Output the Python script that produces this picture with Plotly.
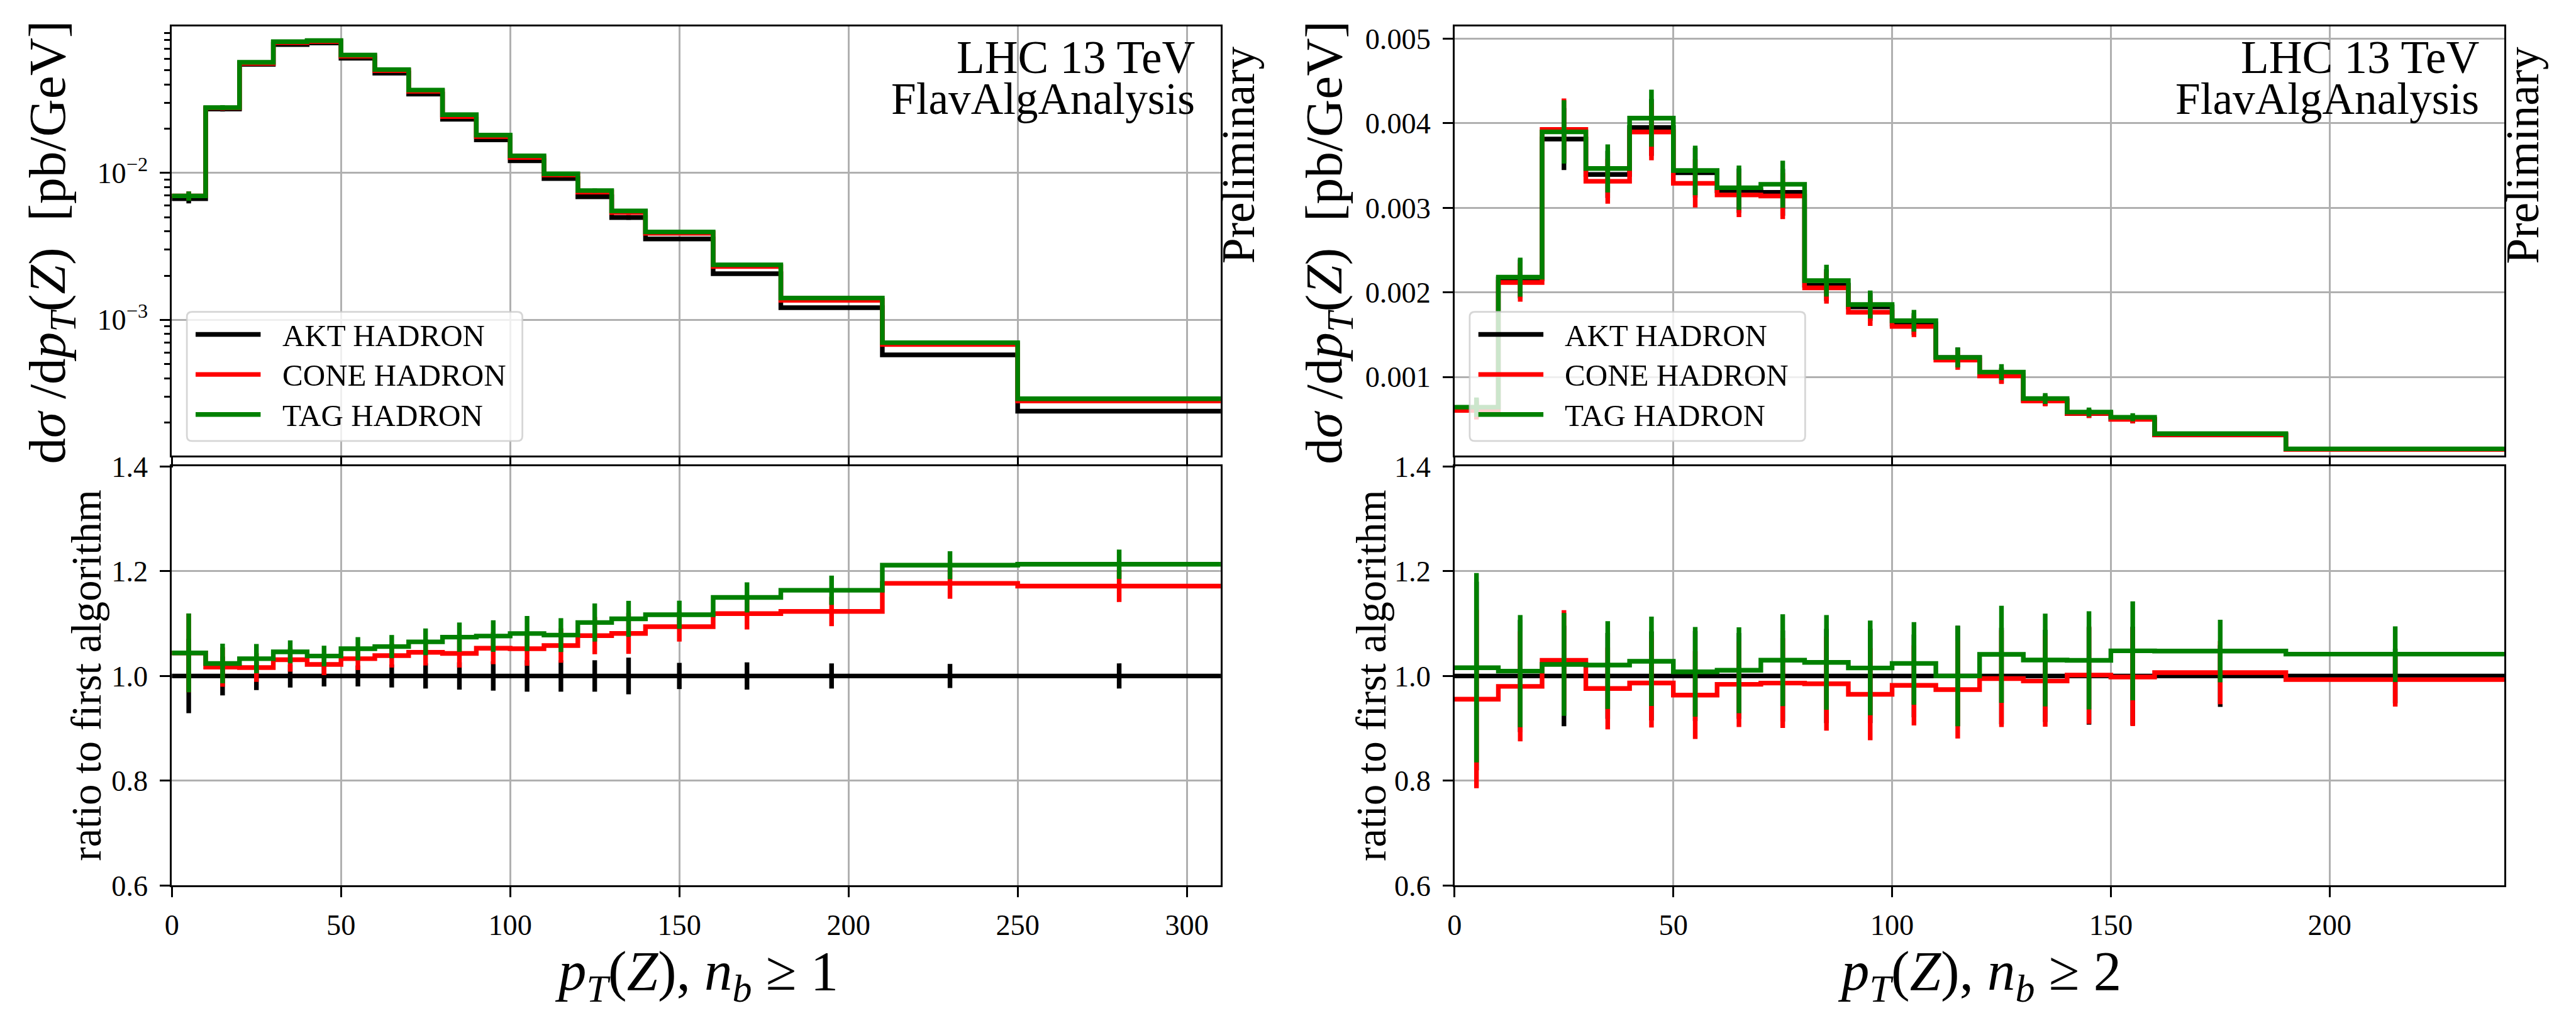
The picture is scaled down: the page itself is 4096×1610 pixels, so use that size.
import plotly.graph_objects as go

# ---------------- data ----------------
# pT(Z), n_b >= 1
edges_nb1 = [0, 10, 20, 30, 40, 50, 60, 70, 80, 90, 100, 110, 120, 130, 140, 160, 180, 210, 250, 310]
akt_nb1 = [0.00668, 0.0272, 0.0548, 0.0748, 0.0767, 0.0603, 0.0478, 0.0344, 0.0232, 0.0168,
           0.0121, 0.00915, 0.00688, 0.00497, 0.00355, 0.00206, 0.00121, 0.000577, 0.000239]
cone_nb1 = [0.006974, 0.02766, 0.05568, 0.07712, 0.07839, 0.06229, 0.04966, 0.03595, 0.02420, 0.01769,
            0.01273, 0.009681, 0.00741, 0.005373, 0.003884, 0.002305, 0.001359, 0.000679, 0.000280]
tag_nb1 = [0.006974, 0.02785, 0.05661, 0.07824, 0.07962, 0.06344, 0.05048, 0.03664, 0.02492, 0.01808,
           0.01308, 0.009864, 0.007582, 0.005512, 0.003965, 0.002369, 0.001408, 0.000699, 0.000290]
akt_relerr_nb1 = [0.071, 0.037, 0.027, 0.022, 0.020, 0.020, 0.022, 0.024, 0.026, 0.028,
                  0.030, 0.030, 0.030, 0.035, 0.025, 0.026, 0.024, 0.023, 0.024]
cone_relerr_nb1 = [0.072, 0.037, 0.027, 0.022, 0.020, 0.021, 0.022, 0.024, 0.026, 0.029,
                   0.031, 0.031, 0.033, 0.036, 0.026, 0.027, 0.025, 0.025, 0.026]
tag_relerr_nb1 = [0.072, 0.037, 0.027, 0.021, 0.019, 0.021, 0.021, 0.024, 0.026, 0.028,
                  0.031, 0.030, 0.033, 0.031, 0.024, 0.025, 0.024, 0.022, 0.023]

# pT(Z), n_b >= 2
edges_nb2 = [0, 10, 20, 30, 40, 50, 60, 70, 80, 90, 100, 110, 120, 130, 140, 150, 160, 190, 240]
akt_nb2 = [0.000633, 0.00216, 0.003814, 0.003395, 0.00395, 0.003415, 0.003203, 0.003183, 0.002085,
           0.001829, 0.001626, 0.001231, 0.001016, 0.000723, 0.000568, 0.000500, 0.000315, 0.000144]
cone_nb2 = [0.000605, 0.002117, 0.003928, 0.003314, 0.003897, 0.00329, 0.003152, 0.00314, 0.002054,
            0.001765, 0.001597, 0.001199, 0.001011, 0.000716, 0.000569, 0.000499, 0.000317, 0.000143]
tag_nb2 = [0.000643, 0.00218, 0.003898, 0.003466, 0.004061, 0.003442, 0.003238, 0.003279, 0.002139,
           0.001857, 0.001665, 0.001231, 0.001058, 0.000745, 0.000585, 0.000524, 0.000330, 0.000150]
akt_relerr_nb2 = [0.180, 0.107, 0.096, 0.082, 0.085, 0.086, 0.082, 0.087, 0.090,
                  0.090, 0.079, 0.096, 0.092, 0.088, 0.093, 0.094, 0.059, 0.052]
cone_relerr_nb2 = [0.178, 0.107, 0.093, 0.080, 0.086, 0.087, 0.083, 0.087, 0.091,
                   0.091, 0.078, 0.096, 0.093, 0.088, 0.093, 0.094, 0.060, 0.052]
tag_relerr_nb2 = [0.178, 0.106, 0.096, 0.082, 0.083, 0.085, 0.081, 0.085, 0.088,
                  0.089, 0.077, 0.096, 0.089, 0.086, 0.091, 0.090, 0.057, 0.051]

series_names = ["AKT HADRON", "CONE HADRON", "TAG HADRON"]
series_colors = ["#000000", "#ff0000", "#008000"]

xticks_nb1 = [0, 50, 100, 150, 200, 250, 300]
xticks_nb2 = [0, 50, 100, 150, 200]
ratio_ticks = [0.6, 0.8, 1.0, 1.2, 1.4]
ratio_ticktext = ["0.6", "0.8", "1.0", "1.2", "1.4"]
lin_ticks_nb2 = [0.001, 0.002, 0.003, 0.004, 0.005]
lin_ticktext_nb2 = ["0.001", "0.002", "0.003", "0.004", "0.005"]
log_ticks_nb1 = [1e-3, 1e-2]
log_ticktext_nb1 = ["10<sup>−3</sup>", "10<sup>−2</sup>"]

# ---------------- geometry ----------------
W, H = 4096, 1610
RW, RH = 4425.0, 1739.0
S = W / RW
FONT = "Liberation Serif"


def PX(x):
    return x / RW


def PY(y):
    return 1.0 - y / RH


LW = 8 * S
FRAME = 3.4 * S
GRID = 2.8 * S
TICKLEN = 17 * S

panels = [
    dict(x0=283, x1=2090, edges=edges_nb1, data=[akt_nb1, cone_nb1, tag_nb1],
         errs=[akt_relerr_nb1, cone_relerr_nb1, tag_relerr_nb1], xmax=310, xticks=xticks_nb1,
         label="<i>p</i><sub><i>T</i></sub>(<i>Z</i>), <i>n</i><sub><i>b</i></sub> ≥ 1"),
    dict(x0=2493, x1=4302, edges=edges_nb2, data=[akt_nb2, cone_nb2, tag_nb2],
         errs=[akt_relerr_nb2, cone_relerr_nb2, tag_relerr_nb2], xmax=240, xticks=xticks_nb2,
         label="<i>p</i><sub><i>T</i></sub>(<i>Z</i>), <i>n</i><sub><i>b</i></sub> ≥ 2"),
]
UP_TOP, UP_BOT = 19, 780
LO_TOP, LO_BOT = 799, 1542

fig = go.Figure()

tickfont = dict(family=FONT, size=50 * S, color="black")


def axis_common():
    return dict(showline=True, linecolor="black", linewidth=FRAME, mirror=True,
                showgrid=True, gridcolor="#b0b0b0", gridwidth=GRID, zeroline=False,
                ticks="outside", ticklen=TICKLEN, tickwidth=FRAME, tickcolor="black",
                tickfont=tickfont)


layout = dict(width=W, height=H, margin=dict(l=0, r=0, t=0, b=0),
              paper_bgcolor="white", plot_bgcolor="white", showlegend=False,
              font=dict(family=FONT, color="black"))

annotations = []
shapes = []

for p_i, P in enumerate(panels):
    up_n = 2 * p_i + 1
    lo_n = 2 * p_i + 2
    xu = "x" if up_n == 1 else "x%d" % up_n
    yu = "y" if up_n == 1 else "y%d" % up_n
    xl = "x%d" % lo_n
    yl = "y%d" % lo_n
    edges = P["edges"]
    centers = [(edges[i] + edges[i + 1]) / 2.0 for i in range(len(edges) - 1)]
    ref = P["data"][0]

    for s_i in range(3):
        vals = P["data"][s_i]
        rel = P["errs"][s_i]
        col = series_colors[s_i]
        fig.add_trace(go.Scatter(x=edges, y=list(vals) + [vals[-1]], mode="lines",
                                 line=dict(color=col, width=LW, shape="hv"),
                                 name=series_names[s_i], xaxis=xu, yaxis=yu, hoverinfo="skip"))
        fig.add_trace(go.Scatter(x=centers, y=vals, mode="markers",
                                 marker=dict(size=1, color=col, opacity=0),
                                 error_y=dict(type="data", array=[v * r for v, r in zip(vals, rel)],
                                              visible=True, thickness=LW, width=0, color=col),
                                 xaxis=xu, yaxis=yu, hoverinfo="skip"))
    for s_i in range(3):
        vals = P["data"][s_i]
        rel = P["errs"][s_i]
        col = series_colors[s_i]
        ratio = [v / r0 for v, r0 in zip(vals, ref)]
        rerr = [v * r / r0 for v, r, r0 in zip(vals, rel, ref)]
        fig.add_trace(go.Scatter(x=edges, y=ratio + [ratio[-1]], mode="lines",
                                 line=dict(color=col, width=LW, shape="hv"),
                                 xaxis=xl, yaxis=yl, hoverinfo="skip"))
        fig.add_trace(go.Scatter(x=centers, y=ratio, mode="markers",
                                 marker=dict(size=1, color=col, opacity=0),
                                 error_y=dict(type="data", array=rerr, visible=True,
                                              thickness=LW, width=0, color=col),
                                 xaxis=xl, yaxis=yl, hoverinfo="skip"))

    dom_x = [PX(P["x0"]), PX(P["x1"])]
    xa_up = axis_common()
    xa_up.update(domain=dom_x, anchor=yu, range=[0, P["xmax"]], tickmode="array",
                 tickvals=P["xticks"], showticklabels=False)
    xa_lo = axis_common()
    xa_lo.update(domain=dom_x, anchor=yl, range=[0, P["xmax"]], tickmode="array",
                 tickvals=P["xticks"], ticktext=[str(t) for t in P["xticks"]],
                 ticklabelstandoff=4)
    ya_lo = axis_common()
    ya_lo.update(domain=[PY(LO_BOT), PY(LO_TOP)], anchor=xl, range=[0.6, 1.4],
                 tickmode="array", tickvals=ratio_ticks, ticktext=ratio_ticktext,
                 ticklabelstandoff=10)
    ya_up = axis_common()
    if p_i == 0:
        ya_up.update(domain=[PY(UP_BOT), PY(UP_TOP)], anchor=xu, type="log",
                     range=[-3.925, -1.003], tickmode="array", tickvals=log_ticks_nb1,
                     ticktext=log_ticktext_nb1, ticklabelstandoff=10,
                     minor=dict(tickmode="array",
                                tickvals=[m * 10 ** e for e in (-4, -3, -2) for m in range(2, 10)],
                                ticks="outside", ticklen=10 * S, tickwidth=FRAME * 0.8,
                                tickcolor="black", showgrid=False))
    else:
        ya_up.update(domain=[PY(UP_BOT), PY(UP_TOP)], anchor=xu, range=[0.000069, 0.005145],
                     tickmode="array", tickvals=lin_ticks_nb2, ticktext=lin_ticktext_nb2,
                     ticklabelstandoff=10)

    key = lambda a, n: a + ("axis" if n == 1 else "axis%d" % n)
    layout[key("x", up_n)] = xa_up
    layout[key("y", up_n)] = ya_up
    layout[key("x", lo_n)] = xa_lo
    layout[key("y", lo_n)] = ya_lo

    off = P["x0"] - 283
    # axis titles
    annotations.append(dict(x=PX(75 + off - (10 if p_i else 0)), y=PY(402), xref="paper", yref="paper",
                            text="d<i>σ</i>&nbsp;/d<i>p</i><sub><i>T</i></sub>(<i>Z</i>)&nbsp;&nbsp;[pb/GeV]",
                            textangle=-90, showarrow=False, xanchor="center", yanchor="middle",
                            font=dict(family=FONT, size=90 * S, color="black")))
    annotations.append(dict(x=PX(136 + off + (4 if p_i else 0)), y=PY(1170), xref="paper", yref="paper",
                            text="ratio to first algorithm", textangle=-90, showarrow=False,
                            xanchor="center", yanchor="middle",
                            font=dict(family=FONT, size=72 * S, color="black")))
    annotations.append(dict(x=PX((P["x0"] + P["x1"]) / 2.0), y=PY(1700), xref="paper", yref="paper",
                            text=P["label"], showarrow=False, xanchor="center", yanchor="middle",
                            font=dict(family=FONT, size=96 * S, color="black")))
    # header texts
    annotations.append(dict(x=PX(P["x1"] - 42), y=PY(74), xref="paper", yref="paper",
                            text="LHC 13 TeV", showarrow=False, xanchor="right", yanchor="middle",
                            font=dict(family=FONT, size=79 * S, color="black")))
    annotations.append(dict(x=PX(P["x1"] - 42), y=PY(147), xref="paper", yref="paper",
                            text="FlavAlgAnalysis", showarrow=False, xanchor="right", yanchor="middle",
                            font=dict(family=FONT, size=77 * S, color="black")))
    annotations.append(dict(x=PX(P["x1"] + 31), y=PY(247), xref="paper", yref="paper",
                            text="Preliminary", textangle=-90, showarrow=False,
                            xanchor="center", yanchor="middle",
                            font=dict(family=FONT, size=79 * S, color="black")))

    # legend (drawn as a framed box)
    bx0 = P["x0"] + 26
    bx1 = bx0 + 578
    by0, by1 = 525, 754
    r = 9
    rx, ry = r / RW, r / RH
    X0, X1, Y0, Y1 = PX(bx0), PX(bx1), PY(by0), PY(by1)
    path = ("M {a},{t} L {b},{t} Q {X1},{t} {X1},{c} L {X1},{d} Q {X1},{bt} {b},{bt} "
            "L {a},{bt} Q {X0},{bt} {X0},{d} L {X0},{c} Q {X0},{t} {a},{t} Z").format(
        a=X0 + rx, b=X1 - rx, t=Y0, bt=Y1, c=Y0 - ry, d=Y1 + ry, X0=X0, X1=X1)
    shapes.append(dict(type="path", path=path, xref="paper", yref="paper", layer="above",
                       fillcolor="rgba(255,255,255,0.8)", line=dict(color="rgba(204,204,204,0.8)",
                                                                    width=3 * S)))
    for s_i, yy in enumerate([565, 636, 707]):
        shapes.append(dict(type="line", xref="paper", yref="paper", layer="above",
                           x0=PX(bx0 + 15), x1=PX(bx0 + 127), y0=PY(yy), y1=PY(yy),
                           line=dict(color=series_colors[s_i], width=LW)))
        annotations.append(dict(x=PX(bx0 + 162), y=PY(yy + 2), xref="paper", yref="paper",
                                text=series_names[s_i], showarrow=False, xanchor="left",
                                yanchor="middle",
                                font=dict(family=FONT, size=53 * S, color="black")))

layout["annotations"] = annotations
layout["shapes"] = shapes
fig.update_layout(**layout)
fig.write_html("out.html")
